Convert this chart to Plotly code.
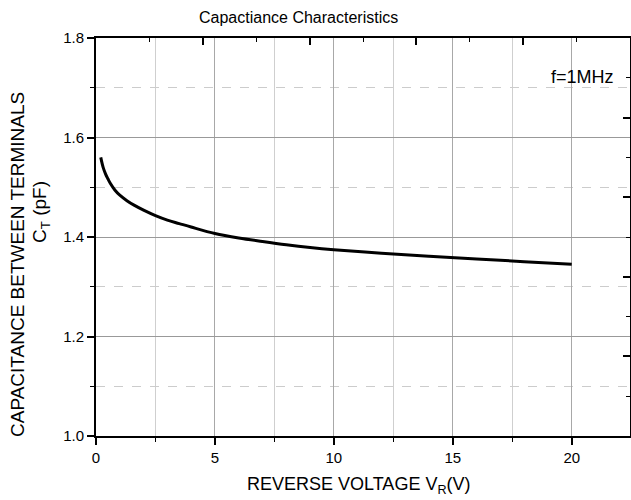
import plotly.graph_objects as go

voltage = [0.2, 0.3, 0.4, 0.5, 0.6, 0.8, 1.0, 1.3, 1.6, 2.0, 2.5, 3.0, 3.5, 4.0,
           5.0, 6.0, 7.0, 8.0, 9.0, 10.0, 12.0, 14.0, 16.0, 18.0, 20.0]
capacitance = [1.560, 1.540, 1.527, 1.517, 1.508, 1.494, 1.484, 1.473, 1.464, 1.454,
               1.443, 1.434, 1.427, 1.420, 1.407, 1.398, 1.391, 1.3845, 1.379, 1.3745,
               1.3675, 1.3615, 1.356, 1.3505, 1.345]

x_range = [0, 22.45]
y_range = [1.0, 1.8]
x_ticks = [0, 5, 10, 15, 20]
y_ticks = [1.0, 1.2, 1.4, 1.6, 1.8]

FONT = "Liberation Sans, Arial, sans-serif"

fig = go.Figure()
fig.add_trace(go.Scatter(x=voltage, y=capacitance, mode="lines",
                         line=dict(color="black", width=3, shape="spline"),
                         showlegend=False, hoverinfo="skip"))
# invisible trace to activate secondary axes
fig.add_trace(go.Scatter(x=[None], y=[None], xaxis="x2", yaxis="y2", showlegend=False))

fig.update_layout(
    width=631, height=500,
    margin=dict(l=96, r=1, t=38, b=64, autoexpand=False),
    paper_bgcolor="white", plot_bgcolor="white",
    font=dict(family=FONT, color="black", size=15),
    xaxis=dict(range=x_range, tickvals=x_ticks, ticktext=[str(v) for v in x_ticks],
               automargin=False,
               showline=True, linecolor="black", linewidth=2,
               ticks="outside", ticklen=7, tickwidth=1.5, tickcolor="black",
               showgrid=True, gridcolor="#a8a8a8", gridwidth=1,
               zeroline=False,
               minor=dict(dtick=2.5, tick0=0, ticks="outside", ticklen=4, tickcolor="black",
                          tickwidth=1, showgrid=True, gridcolor="#cfcfcf", gridwidth=1),
               tickfont=dict(size=15)),
    yaxis=dict(range=y_range, tickvals=y_ticks, ticktext=["%.1f" % v for v in y_ticks],
               automargin=False,
               showline=True, linecolor="black", linewidth=2,
               ticks="outside", ticklen=7, tickwidth=1.5, tickcolor="black",
               showgrid=True, gridcolor="#999999", gridwidth=1,
               zeroline=False,
               minor=dict(dtick=0.1, tick0=1.0, ticks="outside", ticklen=4, tickcolor="black",
                          tickwidth=1, showgrid=True, gridcolor="#cccccc", griddash="dash",
                          gridwidth=1),
               tickfont=dict(size=15)),
    xaxis2=dict(range=x_range, overlaying="x", side="top", showline=True, linecolor="black",
                automargin=False,
                linewidth=2, ticks="inside", ticklen=7, tickwidth=1.5, tickcolor="black",
                tick0=0, dtick=4.49, showticklabels=False, showgrid=False, zeroline=False,
                minor=dict(dtick=2.245, tick0=0, ticks="inside", ticklen=4, tickcolor="black",
                           tickwidth=1, showgrid=False)),
    yaxis2=dict(range=y_range, overlaying="y", side="right", showline=True, linecolor="black",
                automargin=False,
                linewidth=2, ticks="inside", ticklen=7, tickwidth=1.5, tickcolor="black",
                tick0=1.0, dtick=0.16, showticklabels=False, showgrid=False, zeroline=False,
                minor=dict(dtick=0.08, tick0=1.0, ticks="inside", ticklen=4, tickcolor="black",
                           tickwidth=1, showgrid=False)),
    annotations=[
        dict(text="Capactiance Characteristics", xref="paper", yref="paper",
             x=(298 - 96) / 534, y=1.0, yshift=21, showarrow=False, font=dict(size=16),
             xanchor="center", yanchor="middle"),
        dict(text="f=1MHz", xref="paper", yref="y", x=(616 - 96) / 534, y=1.721,
             showarrow=False, xanchor="right", yanchor="middle", font=dict(size=18)),
        dict(text="REVERSE VOLTAGE V<sub>R</sub>(V)", xref="paper", yref="paper",
             x=(359 - 96) / 534, y=0, yshift=-49, showarrow=False, font=dict(size=18),
             xanchor="center", yanchor="middle"),
        dict(text="CAPACITANCE BETWEEN TERMINALS", xref="paper", yref="paper",
             x=0, xshift=-79, y=(436 - 265) / 398, textangle=-90, showarrow=False,
             font=dict(size=19), xanchor="center", yanchor="middle"),
        dict(text="C<sub>T</sub> (pF)", xref="paper", yref="paper",
             x=0, xshift=-55, y=(436 - 212) / 398, textangle=-90, showarrow=False,
             font=dict(size=19), xanchor="center", yanchor="middle"),
    ],
)

fig.write_html("out.html", config={"displayModeBar": False},
               post_script="document.body.style.margin='0';")
